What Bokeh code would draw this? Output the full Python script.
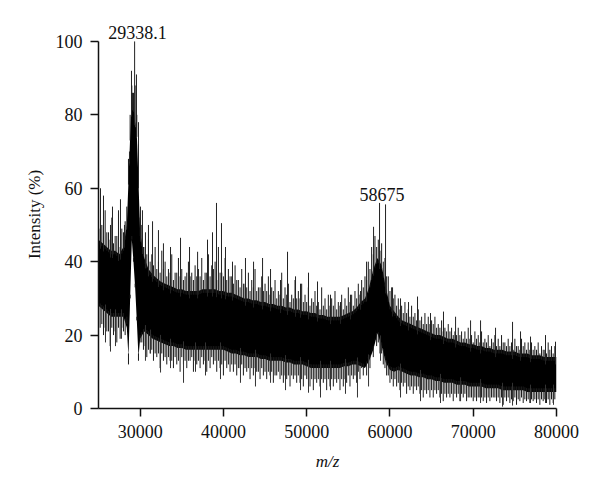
import numpy as np
from bokeh.plotting import figure
from bokeh.models import Range1d, Label, FixedTicker
from bokeh.embed import file_html
from bokeh.resources import INLINE

# ---- data (intensity in %) ----
# dense band: upper / lower edge (every 500 m/z, finer around the 29338 peak)
mz_grid = (list(range(25000, 28001, 500)) + [28400, 28600, 28800, 29000, 29200, 29400, 29600, 29800]
           + list(range(30000, 80001, 500)))
band_hi = ([46, 45, 44, 43, 43, 42, 44]
           + [50, 62, 74, 84, 82, 78, 75, 62]
           + [48, 41, 38, 36.5, 35.5, 34.5, 34, 33.5, 33, 32.5, 32.5, 32, 32, 32, 32, 32.5, 32.5, 32.5, 32.5, 32, 32]
           + [31.5, 31.5, 31, 30.5, 30, 30, 29.5, 29.5, 29, 29,
              28.5, 28.5, 28, 28, 27.5, 27.5, 27, 27, 26.5, 26.5,
              26, 26, 25.5, 25.5, 25, 25, 25, 25, 25.5, 26,
              26.5, 27.5, 29, 30, 33, 38, 41, 39, 33, 28]
           + [26.5, 25, 24, 23.5, 23, 22.5, 22, 21.5, 21, 20.5,
              20, 20, 19.5, 19, 19, 18.5, 18, 18, 17.5, 17.5,
              17, 17, 16.5, 16.5, 16, 16, 16, 15.5, 15.5, 15.5,
              15, 15, 15, 14.5, 14.5, 14.5, 14, 14, 14, 14])
band_lo = ([28, 27, 26, 25, 25, 25, 25]
           + [22, 14, 30, 46, 40, 33, 24, 14]
           + [19, 21, 20, 19, 18.5, 18, 17.5, 17, 17, 16.5, 16.5, 16, 16, 16, 16, 16, 16, 16, 16, 16, 16]
           + [15.5, 15, 15, 14.5, 14.5, 14, 14, 14, 13.5, 13.5,
              13, 13, 13, 13, 12.5, 12.5, 12, 12, 12, 11.5,
              11, 11, 11, 11, 11, 11, 11, 11, 11.5, 11.5,
              12, 12, 11.5, 11, 13, 16, 20.5, 17, 12.5, 10.5]
           + [10, 10.5, 10, 9.5, 9, 9, 8.5, 8.5, 8, 8,
              7.5, 7.5, 7, 7, 7, 6.5, 6.5, 6.5, 6, 6,
              6, 6, 5.5, 5.5, 5.5, 5.5, 5, 5, 5, 5,
              5, 5, 4.5, 4.5, 4.5, 4.5, 4.5, 4.5, 4.5, 4.5])

# noise fringe, set A positions (every 400 m/z from 25000)
fringe_a_mz = list(range(25000, 79801, 400))
fringe_a_up = [52, 50, 54, 48, 52, 47, 53, 49, 51, 68,
               88, 88, 72, 50, 44, 46, 42, 44, 40, 43,
               40, 38, 42, 37, 41, 38, 36, 40, 37, 39,
               38, 41, 37, 42, 39, 40, 44, 37, 41, 38,
               36, 39, 35, 38, 34, 37, 35, 38, 33, 36,
               34, 36, 33, 35, 32, 37, 33, 34, 31, 35,
               32, 34, 31, 33, 30, 32, 29, 33, 30, 31,
               30, 32, 29, 31, 30, 33, 31, 32, 34, 35,
               36, 40, 44, 47, 46, 45, 41, 36, 33, 31,
               30, 28, 29, 27, 28, 26, 27, 25, 26, 25,
               24, 25, 23, 24, 22, 23, 22, 21, 22, 21,
               21, 22, 20, 21, 20, 21, 19, 20, 19, 20,
               19, 20, 18, 19, 18, 19, 17, 19, 18, 18,
               18, 17, 18, 17, 16, 18, 17, 17]
fringe_a_dn = [24, 23, 22, 21, 22, 21, 22, 22, 20, 12,
               46, 33, 13, 18, 17, 16, 16, 15, 15, 15,
               14, 14, 13, 14, 13, 14, 13, 13, 14, 13,
               13, 14, 13, 13, 14, 13, 13, 12, 13, 12,
               12, 12, 11, 12, 11, 11, 11, 11, 10, 11,
               10, 10, 10, 9, 10, 9, 9, 9, 9, 9,
               9, 8, 9, 8, 8, 8, 8, 8, 8, 8,
               8, 8, 8, 8, 8, 9, 9, 9, 10, 11,
               12, 14, 16, 19, 18, 15, 11, 9, 8, 8,
               7, 7, 7, 6, 6, 6, 6, 5, 5, 5,
               5, 5, 5, 4, 4, 4, 4, 4, 4, 4,
               4, 3, 3, 3, 3, 3, 3, 3, 3, 3,
               3, 3, 3, 3, 2.5, 3, 2.5, 3, 2.5, 2.5,
               2.5, 2.5, 2.5, 2.5, 2.5, 2.5, 2.5, 2.5]
# noise fringe, set B positions (every 400 m/z from 25200)
fringe_b_mz = list(range(25200, 79601, 400))
fringe_b_up = [49, 47, 48, 46, 45, 47, 44, 48, 55, 80,
               86, 80, 52, 44, 42, 40, 39, 38, 37, 38,
               36, 37, 35, 37, 36, 35, 37, 36, 35, 36,
               36, 35, 37, 36, 38, 35, 37, 36, 35, 36,
               34, 35, 33, 34, 33, 32, 33, 32, 33, 32,
               32, 31, 32, 30, 31, 30, 31, 29, 30, 30,
               30, 29, 29, 28, 29, 28, 27, 28, 27, 28,
               28, 27, 28, 27, 28, 29, 28, 30, 31, 33,
               35, 38, 42, 44, 43, 40, 36, 32, 30, 28,
               27, 26, 26, 25, 25, 24, 24, 23, 23, 23,
               23, 22, 22, 21, 21, 21, 20, 20, 20, 19,
               19, 19, 18, 19, 18, 18, 18, 17, 18, 17,
               17, 18, 17, 17, 16, 17, 16, 17, 16, 16,
               16, 16, 15, 16, 15, 16, 15]
fringe_b_dn = [22, 20, 21, 17, 20, 18, 19, 21, 25, 30,
               40, 24, 18, 16, 14, 15, 13, 14, 11, 13,
               12, 13, 11, 12, 10, 12, 11, 13, 10, 12,
               11, 12, 10, 11, 12, 10, 11, 9, 11, 10,
               10, 9, 11, 9, 10, 8, 9, 10, 8, 9,
               8, 9, 7, 9, 8, 7, 8, 6, 8, 7,
               7, 6, 8, 6, 5, 7, 6, 7, 5, 6,
               6, 7, 5, 6, 7, 6, 8, 7, 8, 9,
               9, 11, 14, 17, 15, 12, 9, 7, 6, 6,
               5, 6, 4, 5, 4, 5, 4, 3, 4, 3,
               3, 4, 3, 2, 3, 3, 2, 3, 2, 3,
               2, 3, 2, 2, 3, 2, 1.5, 2, 3, 2,
               1.5, 1, 2, 1.5, 2, 1, 2, 1.5, 2, 1.5,
               2, 1.5, 1, 2, 1.5, 1, 1.5]

# tall individual spikes (m/z, top %)
spike_mz = [25240, 25600, 26440, 26680, 27400, 27640, 28120, 28720, 28960, 29080, 29338, 29560,
            29800, 30040, 30280, 30640, 31000, 31490, 32200, 32800, 33650, 34850, 35930, 36900,
            38090, 38690, 39170, 39770, 40250, 41090, 42650, 43620, 44700, 45660, 46860, 47700,
            48660, 49260, 50220, 51300, 52860, 54060, 55260, 56470, 57190, 58030, 58750, 59470,
            60310, 61270, 62230, 63310, 64870, 66430, 67880, 69680, 70880, 72680, 74720, 75680,
            76880, 78680, 79880]
spike_top = [60, 58, 50, 55, 54, 57, 50, 70, 92, 86, 100, 91,
             78, 55, 54, 48, 50, 51, 48.6, 45, 44, 46.5, 44, 42.7,
             46, 48, 56, 50.5, 44, 40, 41, 40, 41, 38, 35, 42.7,
             36, 34, 37, 34.6, 31, 29, 31, 32, 40, 49.5, 56, 55.6,
             33, 30, 29, 30.5, 26, 26.4, 25, 24, 24, 22, 23.6, 21,
             19.6, 20, 18.2]

# deep individual dips (m/z, bottom %)
dip_mz = [25840, 26440, 27040, 27760, 30640, 31250, 32450, 33650, 35210, 36650, 37850, 39650,
          42050, 43850, 45660, 47460, 49260, 50220, 51660, 52860, 54660, 56100, 57430, 58870,
          61270, 63670, 66070, 68480, 70880, 73520, 74720, 76880, 78680, 79640]
dip_bot = [18, 15.5, 17, 19, 13, 15, 9.8, 11, 7, 10, 9, 8,
           7, 6, 7, 5, 5, 4.3, 3, 5, 4, 3, 6, 13,
           3, 2, 1.5, 2, 1.5, 0.5, 0.8, 1.5, 1.5, 1]

peak_labels = ["29338.1", "58675"]
peak_mz = [29338, 58675]
peak_y = [100, 56]

x_ticks = [30000, 40000, 50000, 60000, 70000, 80000]
y_ticks = [0, 20, 40, 60, 80, 100]

FONT = "Liberation Serif"
INK = "#111111"

p = figure(width=584, height=473, output_backend="svg", toolbar_location=None,
           x_range=Range1d(25000, 80000), y_range=Range1d(0, 105.7),
           min_border_left=98, min_border_right=28, min_border_top=20, min_border_bottom=64)
p.outline_line_color = None
p.grid.visible = False

p.varea(x=mz_grid, y1=band_lo, y2=band_hi, fill_color="black")

def band_at(xs, edge, shift):
    return np.interp(xs, mz_grid, edge) + shift

for xs, tops, bots in ((fringe_a_mz, fringe_a_up, fringe_a_dn), (fringe_b_mz, fringe_b_up, fringe_b_dn)):
    p.segment(x0=xs, y0=band_at(xs, band_hi, -1), x1=xs, y1=tops, line_color="#1a1a1a", line_width=1)
    p.segment(x0=xs, y0=band_at(xs, band_lo, 1), x1=xs, y1=bots, line_color="#1a1a1a", line_width=1)

p.segment(x0=spike_mz, y0=band_at(spike_mz, band_hi, -2), x1=spike_mz, y1=spike_top,
          line_color="#222222", line_width=1)
p.segment(x0=dip_mz, y0=band_at(dip_mz, band_lo, 2), x1=dip_mz, y1=dip_bot,
          line_color="#333333", line_width=1)

for ax in (p.xaxis[0], p.yaxis[0]):
    ax.axis_line_color = INK
    ax.axis_line_width = 1.5
    ax.major_tick_line_color = INK
    ax.major_tick_line_width = 1.5
    ax.major_tick_out = 8
    ax.major_tick_in = 0
    ax.minor_tick_line_color = None
    ax.major_label_text_font = FONT
    ax.major_label_text_font_size = "18px"
    ax.major_label_text_color = INK
    ax.axis_label_text_font = FONT
    ax.axis_label_text_font_size = "17px"
    ax.axis_label_text_font_style = "normal"
    ax.axis_label_text_color = INK

p.xaxis.ticker = FixedTicker(ticks=x_ticks)
p.yaxis.ticker = FixedTicker(ticks=y_ticks)
p.yaxis.bounds = (0, 100)
p.xaxis.major_label_standoff = 8
p.yaxis.major_label_standoff = 8
p.xaxis.axis_label = "m/z"
p.xaxis.axis_label_text_font_style = "italic"
p.xaxis.axis_label_standoff = 11
p.yaxis.axis_label = "Intensity (%)"
p.yaxis.axis_label_standoff = 9

for txt, xm, ym in zip(peak_labels, peak_mz, peak_y):
    p.add_layout(Label(x=xm, y=ym, text=txt, text_align="center", text_baseline="bottom",
                       x_offset=3, y_offset=2, text_font=FONT, text_font_size="18px",
                       text_color=INK))

open("out.html", "w").write(file_html(p, INLINE))
